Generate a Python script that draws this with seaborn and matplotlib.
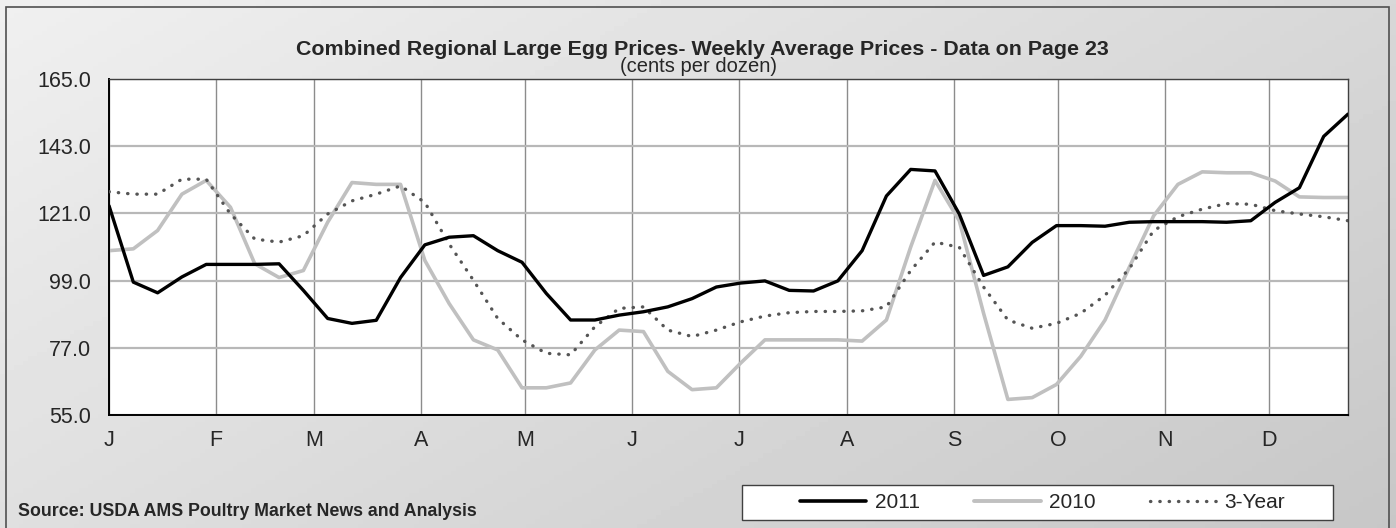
import numpy as np
import pandas as pd
import matplotlib.pyplot as plt
import seaborn as sns
from matplotlib.lines import Line2D
from matplotlib.patches import Rectangle

# weekly prices, cents per dozen (52 weeks)
prices_2011 = [123.5, 98.5, 95.0, 100.2, 104.3, 104.3, 104.3, 104.5, 95.8, 86.6,
               85.0, 86.0, 100.0, 110.7, 113.2, 113.7, 108.8, 105.0, 94.8, 86.1,
               86.1, 87.7, 88.8, 90.4, 93.1, 96.9, 98.2, 98.9, 95.8, 95.6,
               98.9, 108.8, 126.7, 135.4, 134.9, 120.8, 100.7, 103.5, 111.5, 117.0,
               117.0, 116.8, 118.1, 118.3, 118.3, 118.3, 118.1, 118.6, 124.6, 129.4,
               146.2, 153.5]
prices_2010 = [108.8, 109.4, 115.4, 127.3, 131.8, 123.0, 104.5, 100.0, 102.3, 118.1,
               131.1, 130.5, 130.5, 105.6, 91.5, 79.6, 76.3, 63.9, 63.9, 65.5,
               76.3, 82.8, 82.3, 69.3, 63.3, 63.9, 72.0, 79.6, 79.6, 79.6,
               79.6, 79.2, 86.1, 110.0, 131.8, 118.6, 88.3, 60.1, 60.7, 65.0,
               74.2, 86.1, 103.4, 120.2, 130.5, 134.6, 134.3, 134.3, 131.6, 126.4,
               126.2, 126.2]
prices_3yr = [128.1, 127.3, 127.3, 132.2, 132.2, 120.8, 112.6, 111.6, 113.7, 120.8,
              125.1, 127.3, 130.0, 124.6, 111.0, 99.1, 86.6, 79.6, 75.2, 74.7,
              83.9, 89.9, 90.4, 82.8, 80.7, 82.8, 85.5, 87.4, 88.5, 88.9,
              88.9, 89.1, 90.4, 102.3, 111.6, 109.9, 96.9, 86.1, 83.4, 85.0,
              88.3, 94.2, 102.9, 115.4, 119.9, 122.4, 124.2, 124.0, 121.9, 120.8,
              119.9, 118.6]
months = ['J', 'F', 'M', 'A', 'M', 'J', 'J', 'A', 'S', 'O', 'N', 'D']
month_pos = [0, 4.40, 8.44, 12.84, 17.13, 21.53, 25.94, 30.38, 34.79, 39.07, 43.47, 47.76]
yticks = [55.0, 77.0, 99.0, 121.0, 143.0, 165.0]

weeks = np.arange(len(prices_2011))
df = pd.DataFrame({'week': weeks, '2011': prices_2011, '2010': prices_2010, '3-Year': prices_3yr})

sns.set_style('white')
plt.rcParams['font.family'] = ['Liberation Sans', 'DejaVu Sans']

fig = plt.figure(figsize=(13.96, 5.28), dpi=100)

# gradient background for the chart area
bg = fig.add_axes([0, 0, 1, 1], zorder=-10)
gx, gy = np.meshgrid(np.linspace(0, 1, 300), np.linspace(0, 1, 120))
grad = 0.94 - 0.16 * (0.6 * gx + 0.4 * gy)
bg.imshow(grad, cmap='gray', vmin=0, vmax=1, aspect='auto', extent=[0, 1, 0, 1], origin='upper')
bg.add_patch(Rectangle((0.004, -0.01), 0.991, 0.997, fill=False, edgecolor='#505050', linewidth=1.2,
                       transform=bg.transAxes))
# legend box (wider than the entries, like the original)
bg.add_patch(Rectangle((0.5315, 0.0152), 0.4234, 0.0663, facecolor='white', edgecolor='#404040',
                       linewidth=1.0, transform=bg.transAxes))
bg.set_xlim(0, 1)
bg.set_ylim(0, 1)
bg.axis('off')

ax = fig.add_axes([0.0781, 0.2140, 0.8875, 0.6364])
ax.set_facecolor('white')

sns.lineplot(data=df, x='week', y='3-Year', ax=ax, color='#555555', linewidth=2.4,
             linestyle=(0, (0.1, 2.7)), dash_capstyle='round', zorder=3)
sns.lineplot(data=df, x='week', y='2010', ax=ax, color='#c0c0c0', linewidth=2.6, zorder=2)
sns.lineplot(data=df, x='week', y='2011', ax=ax, color='black', linewidth=2.4, zorder=4)

ax.set_xlim(0, 51)
ax.set_ylim(55, 165)
ax.set_yticks(yticks)
ax.set_yticklabels([f'{v:.1f}' for v in yticks], fontsize=15.5)
ax.set_xticks(month_pos)
ax.set_xticklabels(months, fontsize=15.5)
ax.tick_params(axis='both', length=0)
ax.tick_params(axis='y', pad=13)
ax.tick_params(axis='x', pad=11)
ax.set_xlabel('')
ax.set_ylabel('')
ax.xaxis.grid(True, color='#8c8c8c', linewidth=1.0)
ax.yaxis.grid(True, color='#b8b8b8', linewidth=1.6)
ax.set_axisbelow(True)
for side in ['left', 'bottom']:
    ax.spines[side].set_color('black')
    ax.spines[side].set_linewidth(1.4)
for side in ['top', 'right']:
    ax.spines[side].set_color('#404040')
    ax.spines[side].set_linewidth(1.0)

fig.text(0.503, 0.906, 'Combined Regional Large Egg Prices- Weekly Average Prices - Data on Page 23',
         ha='center', va='center', fontsize=15.4, fontweight='bold')
fig.text(0.500, 0.874, '(cents per dozen)', ha='center', va='center', fontsize=14.5)
fig.text(0.013, 0.032, 'Source: USDA AMS Poultry Market News and Analysis',
         ha='left', va='center', fontsize=12.8, fontweight='bold')

handles = [Line2D([], [], color='black', linewidth=2.6),
           Line2D([], [], color='#c0c0c0', linewidth=2.8),
           Line2D([], [], color='#555555', linewidth=2.4, linestyle=(0, (0.1, 2.7)),
                  dash_capstyle='round')]
leg = fig.legend(handles, ['2011', '2010', '3-Year'], ncol=3, loc='center',
                 bbox_to_anchor=(0.7468, 0.0483), frameon=False, fontsize=15,
                 handlelength=3.2, handletextpad=0.4, columnspacing=2.6,
                 borderpad=0.3, borderaxespad=0)

fig.savefig('out.png', dpi=100)
